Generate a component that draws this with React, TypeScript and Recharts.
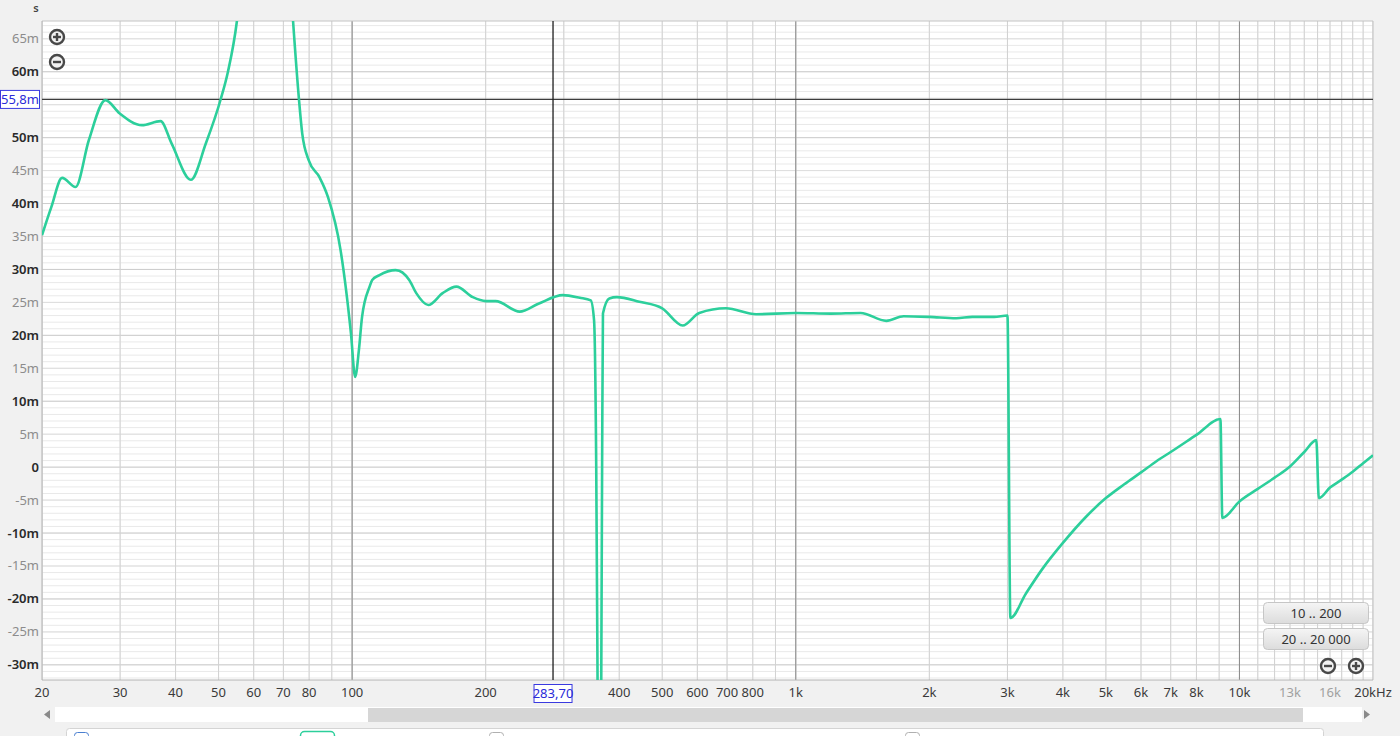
import { LineChart, Line, XAxis, YAxis, CartesianGrid, ReferenceLine } from "recharts";

// group delay readout, ms vs Hz
const freqs = [
  20, 21, 22.2, 23.8, 25.5, 27.8, 29.9, 33.6, 37, 39.2, 43.3, 46.8, 50.6, 52.5, 55, 57, 60, 64, 68, 71,
  73.6, 75.9, 77.2, 79.9, 84.4, 88.2, 94.2, 99.4, 101.6, 103.6, 105.3, 109.5, 111, 115, 125.4, 134.5,
  139.5, 148.5, 160, 171.8, 187, 200, 210.6, 238.6, 263, 298.6, 326, 345, 351, 355, 358, 361, 364, 366,
  367.6, 380, 395, 444, 500, 556, 606, 696, 814, 1000, 1200, 1400, 1600, 1750, 2000, 2300, 2500, 2800,
  3000, 3046, 3300, 3600, 4000, 4500, 5000, 5500, 6000, 6500, 7000, 8000, 9060,
  9150, 10000, 11000, 12000, 13000, 14000, 14900,
  15100, 16000, 17000, 18000, 19000, 20000,
];
const delays = [
  35.2, 39.5, 43.9, 42.5, 49.6, 55.7, 53.7, 51.9, 52.5, 49.1, 43.6, 49.1, 55.9, 60, 67.7, 78, 92, 105, 98, 84,
  67.7, 55.8, 50.6, 46.5, 44, 41, 32.9, 20.3, 13.7, 17.8, 22.8, 27.4, 28.4, 29.1, 29.9, 28.4,
  26.4, 24.6, 26.4, 27.4, 25.8, 25.2, 25.2, 23.6, 24.8, 26.1, 25.7, 25.3, 22.3, 0, -40, -80, -40, 0,
  23.3, 25.6, 25.8, 25.1, 24.1, 21.5, 23.4, 24.1, 23.2, 23.4, 23.3, 23.4, 22.2, 22.9, 22.8, 22.6, 22.8, 22.8,
  23, -22.9, -19.2, -15.4, -11.5, -7.6, -4.7, -2.6, -0.8, 0.9, 2.3, 4.9, 7.3,
  -7.7, -5.2, -3.3, -1.6, 0.1, 2.3, 4.1,
  -4.7, -3.1, -1.9, -0.7, 0.6, 1.8,
];

const gridFreqs = [
  20, 30, 40, 50, 60, 70, 80, 90, 100, 200, 300, 400, 500, 600, 700, 800, 900, 1000, 2000, 3000, 4000,
  5000, 6000, 7000, 8000, 9000, 10000, 11000, 12000, 13000, 14000, 15000, 16000, 17000, 18000, 19000, 20000,
];
const decadeFreqs = [100, 1000, 10000];
const freqLabels: Record<number, string> = {
  20: "20", 30: "30", 40: "40", 50: "50", 60: "60", 70: "70", 80: "80", 100: "100", 200: "200",
  400: "400", 500: "500", 600: "600", 700: "700", 800: "800", 1000: "1k", 2000: "2k", 3000: "3k",
  4000: "4k", 5000: "5k", 6000: "6k", 7000: "7k", 8000: "8k", 10000: "10k", 13000: "13k", 16000: "16k",
  20000: "20kHz",
};
const fadedFreqs = [13000, 16000];

const delayTicks = [-30, -25, -20, -15, -10, -5, 0, 5, 10, 15, 20, 25, 30, 35, 40, 45, 50, 55, 60, 65];
const minorDelayLines = Array.from({ length: 100 }, (_, i) => i - 32);
const fiveLines = delayTicks.filter((t) => t % 10 !== 0);
const tenLines = delayTicks.filter((t) => t % 10 === 0);

const yDomain = [-32.3, 67.7];
const cursorFreq = 283.7;
const cursorDelay = 55.8;

const data = freqs.map((f, i) => ({ f, v: delays[i] }));

const FONT = '"Noto Sans", "Open Sans", sans-serif';

function XTick(props: any) {
  const { x, y, payload } = props;
  const label = freqLabels[payload.value];
  if (!label) return null;
  const faded = fadedFreqs.includes(payload.value);
  return (
    <text x={x} y={y + 17} textAnchor="middle" fontSize={13} fontFamily={FONT} fill={faded ? "#a0a0a0" : "#3a3a3a"}>
      {label}
    </text>
  );
}

function YTick(props: any) {
  const { y, payload } = props;
  const v = payload.value;
  if (v === 55) return null;
  const major = v % 10 === 0;
  const text = v === 0 ? "0" : `${v}m`;
  return (
    <text
      x={39}
      y={y + 4.5}
      textAnchor="end"
      fontSize={13}
      fontFamily={FONT}
      fontWeight={major ? 600 : 400}
      fill={major ? "#2a2a2a" : "#8c8c8c"}
    >
      {text}
    </text>
  );
}

function YCursorLabel(props: any) {
  const y = props.viewBox?.y ?? 0;
  return (
    <g>
      <rect x={0.5} y={y - 9} width={39} height={18} fill="#fff" stroke="#3a3ae0" />
      <text x={20} y={y + 4.5} textAnchor="middle" fontSize={13} fontFamily={FONT} fill="#2a2ad8">
        {String(cursorDelay).replace(".", ",")}m
      </text>
    </g>
  );
}

function XCursorLabel(props: any) {
  const vb = props.viewBox ?? {};
  const x = vb.x ?? 0;
  const bottom = (vb.y ?? 0) + (vb.height ?? 0);
  return (
    <g>
      <rect x={x - 19} y={bottom + 4.5} width={38} height={18} fill="#fff" stroke="#3a3ae0" />
      <text x={x} y={bottom + 18} textAnchor="middle" fontSize={13} fontFamily={FONT} fill="#2a2ad8">
        {cursorFreq.toFixed(2).replace(".", ",")}
      </text>
    </g>
  );
}

function ZoomIcon({ cx, cy, plus }: { cx: number; cy: number; plus: boolean }) {
  return (
    <g>
      <circle cx={cx} cy={cy} r={7} fill="#f2f2f2" stroke="#484848" strokeWidth={2.4} />
      <line x1={cx - 4} y1={cy} x2={cx + 4} y2={cy} stroke="#484848" strokeWidth={2.4} />
      {plus && <line x1={cx} y1={cy - 4} x2={cx} y2={cy + 4} stroke="#484848" strokeWidth={2.4} />}
    </g>
  );
}

function RangeButton({ y, label }: { y: number; label: string }) {
  return (
    <g>
      <rect x={1263.5} y={y + 0.5} width={105} height={21} rx={4} fill="url(#btnGrad)" stroke="#c6c6c6" />
      <text x={1316} y={y + 15.5} textAnchor="middle" fontSize={13} fontFamily={FONT} fill="#333">
        {label}
      </text>
    </g>
  );
}

export default function App() {
  return (
    <div
      style={{
        position: "absolute",
        left: 0,
        top: 0,
        width: 1400,
        height: 736,
        background: "#f1f1f1",
        overflow: "hidden",
        fontFamily: FONT,
      }}
    >
      <LineChart width={1400} height={736} data={data} margin={{ top: 21, right: 27, left: 0, bottom: 0 }}>
        <CartesianGrid
          fill="#ffffff"
          stroke="#e9e9e9"
          horizontalValues={minorDelayLines}
          verticalValues={gridFreqs}
        />
        {fiveLines.map((v) => (
          <ReferenceLine key={`h5-${v}`} y={v} stroke="#dedede" ifOverflow="hidden" />
        ))}
        {tenLines.map((v) => (
          <ReferenceLine key={`h10-${v}`} y={v} stroke="#cdcdcd" ifOverflow="hidden" />
        ))}
        {gridFreqs.map((f) => (
          <ReferenceLine key={`v-${f}`} x={f} stroke="#d2d2d2" ifOverflow="hidden" />
        ))}
        {decadeFreqs.map((f) => (
          <ReferenceLine key={`d-${f}`} x={f} stroke="#8a8a8a" ifOverflow="hidden" />
        ))}
        <ReferenceLine y={yDomain[1]} stroke="#c4c4c4" />
        <ReferenceLine x={20} stroke="#b4b4b4" />
        <ReferenceLine x={20000} stroke="#c4c4c4" />
        <ReferenceLine y={yDomain[0]} stroke="#b4b4b4" />
        <XAxis
          dataKey="f"
          type="number"
          scale="log"
          domain={[20, 20000]}
          ticks={gridFreqs}
          tick={<XTick />}
          interval={0}
          tickSize={0}
          tickMargin={0}
          axisLine={false}
          tickLine={false}
          height={56}
          allowDataOverflow
        />
        <YAxis
          type="number"
          domain={yDomain}
          ticks={delayTicks}
          tick={<YTick />}
          interval={0}
          tickSize={0}
          tickMargin={0}
          axisLine={false}
          tickLine={false}
          width={42}
          allowDataOverflow
        />
        <ReferenceLine y={cursorDelay} stroke="#3c3c3c" strokeWidth={1.3} label={<YCursorLabel />} />
        <ReferenceLine x={cursorFreq} stroke="#1e1e1e" strokeWidth={1.3} label={<XCursorLabel />} />
        <Line
          type="monotone"
          dataKey="v"
          stroke="#2ccf9b"
          strokeWidth={2.6}
          dot={false}
          activeDot={false}
          isAnimationActive={false}
        />
      </LineChart>

      <svg
        width={1400}
        height={736}
        style={{ position: "absolute", left: 0, top: 0, pointerEvents: "none" }}
      >
        <defs>
          <linearGradient id="btnGrad" x1="0" y1="0" x2="0" y2="1">
            <stop offset="0%" stopColor="#f5f5f5" />
            <stop offset="100%" stopColor="#dcdcdc" />
          </linearGradient>
        </defs>
        <text x={36} y={12} textAnchor="middle" fontSize={11} fontFamily={FONT} fontWeight={600} fill="#444">
          s
        </text>
        <ZoomIcon cx={57} cy={37} plus />
        <ZoomIcon cx={57} cy={62} plus={false} />
        <RangeButton y={602} label="10 .. 200" />
        <RangeButton y={628} label="20 .. 20 000" />
        <ZoomIcon cx={1328} cy={666} plus={false} />
        <ZoomIcon cx={1356} cy={666} plus />
        {/* scrollbar */}
        <rect x={55} y={707} width={1307} height={15} fill="#ffffff" />
        <rect x={368} y={708} width={935} height={14} fill="#d6d6d6" />
        <path d="M50 710 L44 714.5 L50 719 Z" fill="#8a8a8a" />
        <path d="M1364 710 L1370 714.5 L1364 719 Z" fill="#8a8a8a" />
        {/* legend strip, cut off at the bottom */}
        <rect x={66.5} y={728.5} width={1257} height={20} rx={3} fill="#ffffff" stroke="#d4d4d4" />
        <rect x={74.5} y={732.5} width={14} height={14} rx={3} fill="#fff" stroke="#4a7fd0" />
        <rect x={300.5} y={731.5} width={34} height={14} rx={4} fill="#fff" stroke="#2ccf9b" strokeWidth={1.5} />
        <rect x={489.5} y={732.5} width={14} height={14} rx={3} fill="#fff" stroke="#b0b0b0" />
        <rect x={905.5} y={732.5} width={14} height={14} rx={3} fill="#fff" stroke="#b0b0b0" />
      </svg>
    </div>
  );
}
